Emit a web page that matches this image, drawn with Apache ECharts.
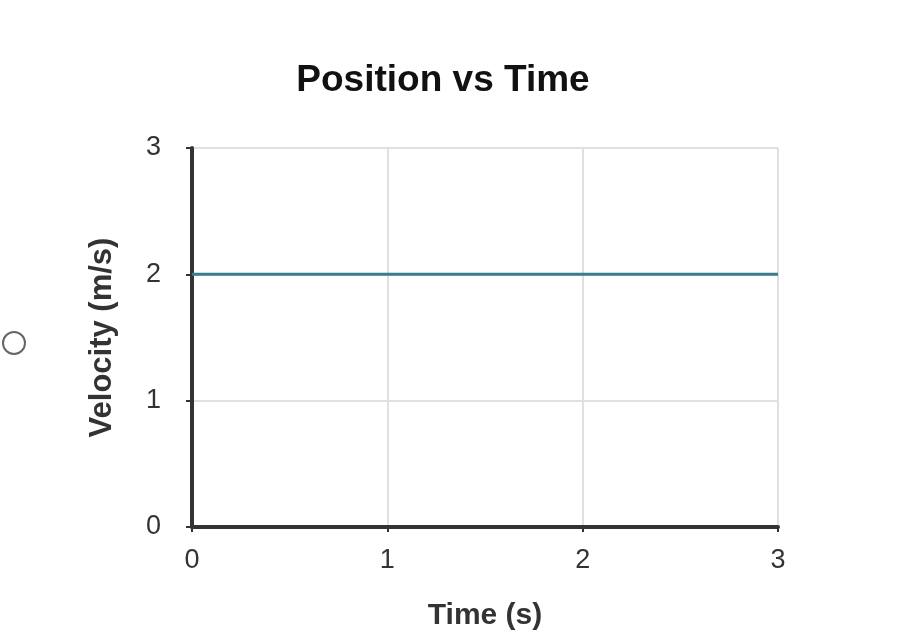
<!DOCTYPE html>
<html>
<head>
<meta charset="utf-8">
<script src="https://cdn.jsdelivr.net/npm/echarts@6/dist/echarts.min.js"></script>
<style>
  html, body { margin: 0; padding: 0; background: #fff; }
  #chart { width: 900px; height: 638px; }
</style>
</head>
<body>
<div id="chart"></div>
<script>
// chart data
var timeValues = [0, 1, 2, 3]
var velocityValues = [2, 2, 2, 2]
var xTicks = [0, 1, 2, 3]
var yTicks = [0, 1, 2, 3]

var chart = echarts.init(document.getElementById('chart'))
var font = 'Liberation Sans, Arial, sans-serif'

var option = {
  backgroundColor: '#fff',
  animation: false,
  title: {
    text: 'Position vs Time',
    left: 438,
    top: 57,
    textAlign: 'center',
    textStyle: { fontFamily: font, fontSize: 37, fontWeight: 'bold', color: '#111' }
  },
  grid: { left: 192, top: 148, right: 122, bottom: 111, containLabel: false },
  xAxis: {
    type: 'value',
    min: xTicks[0],
    max: xTicks[xTicks.length - 1],
    interval: 1,
    name: 'Time (s)',
    nameLocation: 'middle',
    nameGap: 74,
    nameTextStyle: { fontFamily: font, fontSize: 30, fontWeight: 'bold', color: '#333' },
    axisLine: { lineStyle: { color: '#333', width: 4 } },
    axisTick: { show: true, length: 5, lineStyle: { color: '#333', width: 2 } },
    axisLabel: { fontFamily: font, fontSize: 27, color: '#333', margin: 20 },
    splitLine: { show: true, lineStyle: { color: '#e0e0e0', width: 2 } }
  },
  yAxis: {
    type: 'value',
    min: yTicks[0],
    max: yTicks[yTicks.length - 1],
    interval: 1,
    name: 'Velocity (m/s)',
    nameLocation: 'middle',
    nameGap: 74,
    nameTextStyle: { fontFamily: font, fontSize: 31, fontWeight: 'bold', color: '#333' },
    axisLine: { show: true, lineStyle: { color: '#333', width: 4 } },
    axisTick: { show: true, length: 6, lineStyle: { color: '#333', width: 2 } },
    axisLabel: { fontFamily: font, fontSize: 27, color: '#333', margin: 31 },
    splitLine: { show: true, lineStyle: { color: '#e0e0e0', width: 2 } }
  },
  graphic: [
    {
      type: 'circle',
      shape: { cx: 14, cy: 343, r: 11 },
      style: { fill: '#fff', stroke: '#666', lineWidth: 2 }
    }
  ],
  series: [
    {
      type: 'line',
      data: timeValues.map(function (t, i) { return [t, velocityValues[i]] }),
      showSymbol: false,
      lineStyle: { color: '#3a7d8c', width: 3 },
      z: 3
    }
  ]
}

chart.setOption(option)
</script>
</body>
</html>
